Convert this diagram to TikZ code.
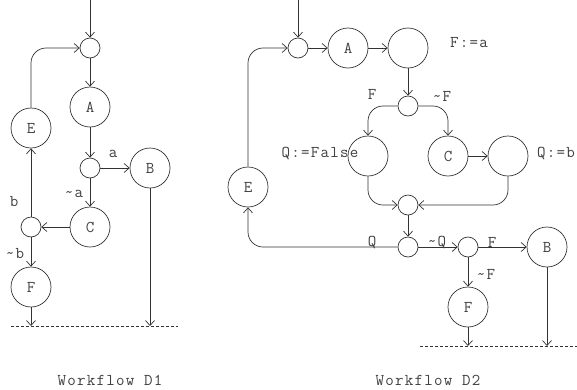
\documentclass[tikz,border=0pt]{standalone}
\usepackage{fontspec}
\newfontfamily\courlike[LetterSpace=7.5]{Latin Modern Mono}
\usetikzlibrary{arrows.meta}
\begin{document}
\begin{tikzpicture}[x=1pt,y=-1pt,
  every node/.style={font=\courlike\fontsize{16.5}{19}\selectfont, text=black!75},
  circ/.style={circle, draw=black!80, line width=0.7pt, minimum size=40pt, inner sep=0pt},
  dot/.style={circle, draw=black!80, line width=0.7pt, minimum size=20pt, inner sep=0pt},
  edge/.style={draw=black!80, line width=0.7pt, -{Straight Barb[length=5pt,width=9pt]}},
  rc/.style={rounded corners=15pt},
  baseline/.style={draw=black!80, line width=0.6pt, dash pattern=on 3pt off 2pt},
  lbl/.style={inner sep=0pt}]
\useasboundingbox (0,0) rectangle (577,389);
% ---------- Workflow D1 ----------
\coordinate (t1) at (90,0);
\node[dot] (d1a) at (90,48) {};
\node[circ] (A1) at (90,107) {A};
\node[dot] (d1b) at (90,168) {};
\node[circ] (B1) at (150,168) {B};
\node[circ] (E1) at (31,128) {E};
\node[circ] (C1) at (90,227) {C};
\node[dot] (d1c) at (31,227) {};
\node[circ] (F1) at (31,287) {F};
\coordinate (e1f) at (31,326);
\coordinate (e1b) at (150,326);
\coordinate (l1a) at (11,326);
\coordinate (l1b) at (178,326);
\draw[edge] (t1) -- (d1a);
\draw[edge] (d1a) -- (A1);
\draw[edge] (A1) -- (d1b);
\draw[edge] (d1b) -- (B1);
\draw[edge] (d1b) -- (C1);
\draw[edge] (C1) -- (d1c);
\draw[edge] (d1c) -- (E1);
\draw[edge,rc] (E1.north) |- (d1a.west);
\draw[edge] (d1c) -- (F1);
\draw[edge] (F1) -- (e1f);
\draw[edge] (B1) -- (e1b);
\draw[baseline] (l1a) -- (l1b);
\node[lbl] (la) at (113,154) {a};
\node[lbl] (lna) at (74,194) {\textasciitilde a};
\node[lbl] (lb) at (14,202) {b};
\node[lbl] (lnb) at (15,254) {\textasciitilde b};
\node (cap1) at (110,380) {Workflow D1};
% ---------- Workflow D2 ----------
\coordinate (t2) at (298,0);
\node[dot] (d2a) at (298,48) {};
\node[circ] (A2) at (348,48) {A};
\node[circ] (X2) at (408,48) {};
\node[dot] (d2b) at (408,106) {};
\node[circ] (Q2) at (368,156) {};
\node[circ] (C2) at (448,156) {C};
\node[circ] (R2) at (508,156) {};
\node[dot] (d2c) at (408,205) {};
\node[dot] (d2d) at (408,247) {};
\node[circ] (E2) at (248,187) {E};
\node[dot] (d2e) at (468,247) {};
\node[circ] (B2) at (547,247) {B};
\node[circ] (F2) at (468,307) {F};
\coordinate (e2f) at (468,346);
\coordinate (e2b) at (547,346);
\coordinate (l2a) at (420,346);
\coordinate (l2b) at (577,346);
\draw[edge] (t2) -- (d2a);
\draw[edge] (d2a) -- (A2);
\draw[edge] (A2) -- (X2);
\draw[edge] (X2) -- (d2b);
\draw[edge,rc] (d2b.west) -| (Q2.north);
\draw[edge,rc] (d2b.east) -| (C2.north);
\draw[edge] (C2) -- (R2);
\draw[edge,rc] (Q2.south) |- (d2c.west);
\draw[edge,rc] (R2.south) |- (d2c.east);
\draw[edge] (d2c) -- (d2d);
\draw[edge,rc] (d2d.west) -| (E2.south);
\draw[edge,rc] (E2.north) |- (d2a.west);
\draw[edge] (d2d) -- (d2e);
\draw[edge] (d2e) -- (B2);
\draw[edge] (d2e) -- (F2);
\draw[edge] (F2) -- (e2f);
\draw[edge] (B2) -- (e2b);
\draw[baseline] (l2a) -- (l2b);
\node[lbl] (lfa) at (469,43) {F:=a};
\node[lbl] (lF) at (372,94) {F};
\node[lbl] (lnF) at (442,96) {\textasciitilde F};
\node[lbl] (lqf) at (320,154) {Q:=False};
\node[lbl] (lqb) at (556,154) {Q:=b};
\node[lbl] (lQ) at (372,242) {Q};
\node[lbl] (lnQ) at (437,242) {\textasciitilde Q};
\node[lbl] (lF2) at (492,242) {F};
\node[lbl] (lnF2) at (486,274) {\textasciitilde F};
\node (cap2) at (428,380) {Workflow D2};
\end{tikzpicture}
\end{document}
